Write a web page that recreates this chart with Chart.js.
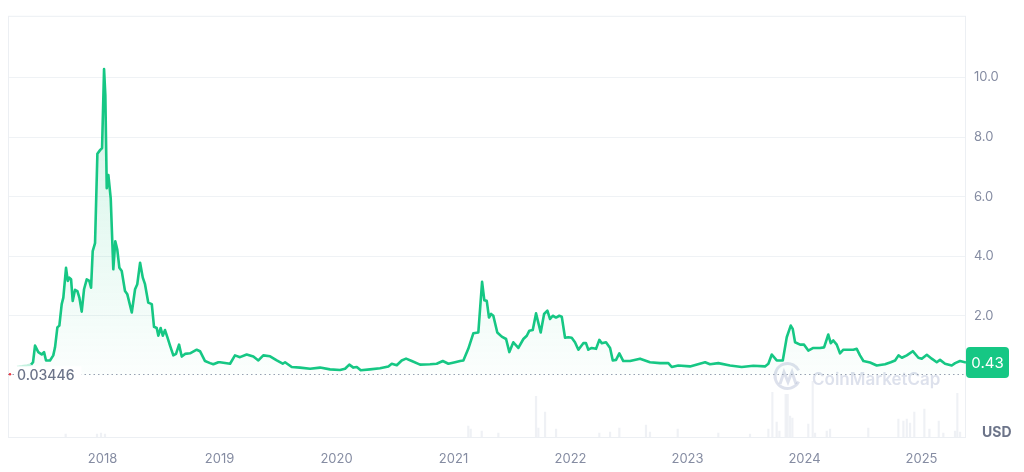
<!DOCTYPE html>
<html>
<head>
<meta charset="utf-8">
<script src="https://cdn.jsdelivr.net/npm/chart.js@4"></script>
<style>
  html, body { margin: 0; padding: 0; background: #fff; }
  #wrap { width: 1024px; height: 472px; }
</style>
</head>
<body>
<div id="wrap"><canvas id="priceChart"></canvas></div>
<script>
// price, dates as decimal years
const priceDates = [
  2017.269, 2017.312, 2017.355, 2017.389, 2017.406, 2017.423, 2017.451, 2017.480, 2017.500, 2017.517,
  2017.551, 2017.579, 2017.594, 2017.614, 2017.631, 2017.651, 2017.665, 2017.688, 2017.703, 2017.716,
  2017.731, 2017.745, 2017.765, 2017.785, 2017.802, 2017.822, 2017.842, 2017.865, 2017.887, 2017.902,
  2017.916, 2017.936, 2017.956, 2017.979, 2017.996, 2018.013, 2018.024, 2018.036, 2018.050, 2018.070,
  2018.092, 2018.109, 2018.126, 2018.144, 2018.164, 2018.192, 2018.212, 2018.250, 2018.278, 2018.297,
  2018.321, 2018.344, 2018.363, 2018.391, 2018.421, 2018.440, 2018.463, 2018.477, 2018.497, 2018.515,
  2018.534, 2018.554, 2018.577, 2018.605, 2018.628, 2018.654, 2018.677, 2018.705, 2018.748, 2018.805,
  2018.833, 2018.876, 2018.919, 2018.947, 2018.990, 2019.004, 2019.090, 2019.132, 2019.175, 2019.232,
  2019.289, 2019.332, 2019.374, 2019.432, 2019.489, 2019.540, 2019.560, 2019.617, 2019.688, 2019.774,
  2019.859, 2019.944, 2020.030, 2020.073, 2020.109, 2020.144, 2020.173, 2020.207, 2020.286, 2020.372,
  2020.443, 2020.472, 2020.515, 2020.557, 2020.594, 2020.643, 2020.714, 2020.799, 2020.856, 2020.908,
  2020.956, 2021.013, 2021.056, 2021.084, 2021.126, 2021.169, 2021.212, 2021.244, 2021.263, 2021.284,
  2021.303, 2021.321, 2021.340, 2021.374, 2021.412, 2021.449, 2021.477, 2021.511, 2021.554, 2021.597,
  2021.626, 2021.648, 2021.677, 2021.705, 2021.745, 2021.774, 2021.802, 2021.825, 2021.848, 2021.876,
  2021.904, 2021.925, 2021.953, 2021.981, 2022.010, 2022.038, 2022.067, 2022.109, 2022.132, 2022.152,
  2022.181, 2022.218, 2022.246, 2022.267, 2022.303, 2022.338, 2022.361, 2022.389, 2022.417, 2022.451,
  2022.509, 2022.594, 2022.679, 2022.765, 2022.836, 2022.865, 2022.921, 2023.021, 2023.150, 2023.192,
  2023.263, 2023.363, 2023.463, 2023.562, 2023.662, 2023.691, 2023.720, 2023.762, 2023.814, 2023.848,
  2023.882, 2023.899, 2023.919, 2023.962, 2023.996, 2024.032, 2024.075, 2024.132, 2024.167, 2024.203,
  2024.224, 2024.246, 2024.275, 2024.303, 2024.332, 2024.374, 2024.417, 2024.446, 2024.474, 2024.503,
  2024.560, 2024.617, 2024.688, 2024.737, 2024.774, 2024.803, 2024.832, 2024.874, 2024.925, 2024.973,
  2025.002, 2025.045, 2025.087, 2025.130, 2025.158, 2025.201, 2025.258, 2025.287, 2025.329, 2025.380
];
const priceValues = [
  0.28, 0.30, 0.33, 0.36, 0.44, 1.00, 0.78, 0.70, 0.78, 0.50,
  0.50, 0.67, 0.94, 1.61, 1.67, 2.39, 2.61, 3.61, 3.17, 3.28,
  3.23, 2.50, 2.87, 2.83, 2.61, 2.14, 2.89, 3.22, 3.17, 2.94,
  4.17, 4.44, 7.44, 7.56, 7.63, 10.28, 9.40, 6.28, 6.72, 5.94,
  3.56, 4.50, 4.22, 3.61, 3.50, 2.83, 2.72, 2.11, 2.89, 3.06,
  3.78, 3.28, 3.06, 2.44, 2.39, 1.63, 1.59, 1.33, 1.59, 1.33,
  1.52, 1.28, 1.00, 0.67, 0.72, 1.03, 0.63, 0.72, 0.74, 0.86,
  0.81, 0.48, 0.41, 0.37, 0.44, 0.44, 0.39, 0.67, 0.61, 0.70,
  0.63, 0.50, 0.67, 0.64, 0.50, 0.39, 0.44, 0.28, 0.26, 0.22,
  0.26, 0.20, 0.18, 0.22, 0.36, 0.26, 0.28, 0.17, 0.20, 0.24,
  0.30, 0.39, 0.34, 0.50, 0.56, 0.48, 0.36, 0.37, 0.39, 0.48,
  0.39, 0.44, 0.48, 0.50, 0.89, 1.41, 1.44, 3.14, 2.52, 2.50,
  1.94, 2.06, 2.00, 1.44, 1.30, 1.22, 0.78, 1.11, 0.92, 1.22,
  1.33, 1.50, 1.52, 2.08, 1.44, 2.06, 2.17, 1.89, 2.00, 1.94,
  2.00, 1.97, 1.26, 1.28, 1.26, 1.11, 0.86, 1.08, 1.08, 0.86,
  0.92, 0.89, 1.19, 1.08, 1.11, 0.92, 0.50, 0.52, 0.74, 0.48,
  0.48, 0.56, 0.44, 0.41, 0.41, 0.28, 0.33, 0.30, 0.44, 0.37,
  0.41, 0.33, 0.28, 0.32, 0.30, 0.39, 0.70, 0.50, 0.50, 1.28,
  1.67, 1.56, 1.11, 1.03, 1.03, 0.83, 0.92, 0.92, 0.94, 1.37,
  1.08, 1.17, 1.03, 0.74, 0.86, 0.86, 0.86, 0.89, 0.67, 0.48,
  0.43, 0.33, 0.37, 0.44, 0.50, 0.67, 0.59, 0.67, 0.81, 0.59,
  0.56, 0.69, 0.56, 0.44, 0.52, 0.39, 0.33, 0.41, 0.48, 0.43
];

// volume (relative units)
const volumeDates = [
  2017.685, 2017.953, 2017.987, 2018.021, 2021.126, 2021.147, 2021.241, 2021.383, 2021.705, 2021.725,
  2021.782, 2021.876, 2022.246, 2022.338, 2022.417, 2022.645, 2022.679, 2022.916, 2023.263, 2023.534,
  2023.691, 2023.725, 2023.762, 2023.785, 2023.839, 2023.856, 2023.876, 2023.896, 2024.032, 2024.070,
  2024.090, 2024.190, 2024.218, 2024.545, 2024.802, 2024.845, 2024.874, 2024.902, 2024.938, 2025.024,
  2025.067, 2025.147, 2025.186, 2025.286, 2025.306, 2025.329
];
const volumeValues = [
  3, 3, 4, 3, 11, 8, 6, 4, 41, 9,
  25, 8, 4, 5, 9, 12, 5, 8, 4, 3,
  8, 45, 15, 6, 43, 43, 21, 19, 13, 56,
  4, 6, 8, 9, 18, 16, 18, 14, 25, 28,
  8, 16, 4, 6, 44, 5
];

const yearTicks = [2018, 2019, 2020, 2021, 2022, 2023, 2024, 2025];
const priceTicks = [2, 4, 6, 8, 10];
const firstPrice = 0.03446;
const lastPrice = 0.43;
const currency = "USD";

const green = "#16c784";
const textGray = "#858ca2";

let pricePoints = priceDates.map((d, i) => ({ x: d, y: priceValues[i] }));
let volumePoints = volumeDates.map((d, i) => ({ x: d, y: volumeValues[i] }));

const overlayPlugin = {
  id: "overlay",
  beforeDatasetsDraw(chart) {
    let ctx = chart.ctx;
    let area = chart.chartArea;
    let y = chart.scales.y.getPixelForValue(firstPrice);

    // frame
    ctx.save();
    ctx.strokeStyle = "#eceff3";
    ctx.lineWidth = 1;
    ctx.strokeRect(area.left + 0.5, area.top + 0.5, area.right - area.left - 1, area.bottom - area.top);
    ctx.restore();

    // watermark
    ctx.save();
    ctx.globalAlpha = 0.4;
    ctx.strokeStyle = "#aab4cf";
    ctx.lineWidth = 3;
    ctx.beginPath();
    ctx.arc(787.5, 376, 12.5, Math.PI * 0.15, Math.PI * 1.85);
    ctx.stroke();
    ctx.beginPath();
    ctx.moveTo(780, 384);
    ctx.lineTo(784, 372);
    ctx.lineTo(788, 382);
    ctx.lineTo(792, 372);
    ctx.lineTo(796, 384);
    ctx.stroke();
    ctx.fillStyle = "#aab4cf";
    ctx.font = "600 17px Inter";
    ctx.textBaseline = "alphabetic";
    ctx.textAlign = "left";
    ctx.fillText("CoinMarketCap", 812, 385);
    ctx.restore();

    // dotted first-price line
    ctx.save();
    ctx.strokeStyle = "#9aa1b3";
    ctx.lineWidth = 1;
    ctx.setLineDash([1.5, 3]);
    ctx.beginPath();
    ctx.moveTo(area.left, Math.round(y) + 0.5);
    ctx.lineTo(area.right, Math.round(y) + 0.5);
    ctx.stroke();
    ctx.restore();
  },
  afterDatasetsDraw(chart) {
    let ctx = chart.ctx;
    let area = chart.chartArea;
    let y0 = chart.scales.y.getPixelForValue(firstPrice);
    let y1 = chart.scales.y.getPixelForValue(lastPrice);

    ctx.save();
    ctx.font = "500 14px Inter";
    let label = firstPrice.toString();
    let w = ctx.measureText(label).width;
    ctx.fillStyle = "#fff";
    ctx.fillRect(area.left + 6, y0 - 8, w + 10, 16);
    ctx.fillStyle = "#6c7489";
    ctx.textBaseline = "middle";
    ctx.fillText(label, area.left + 9, y0 + 1);
    ctx.fillStyle = "#ea3943";
    ctx.beginPath();
    ctx.arc(area.left + 2, y0, 1.2, 0, Math.PI * 2);
    ctx.fill();

    // current price badge
    ctx.fillStyle = green;
    ctx.beginPath();
    ctx.roundRect(area.right, y1 - 15.5, 43, 31, 4);
    ctx.fill();
    ctx.fillStyle = "#fff";
    ctx.font = "15px Inter";
    ctx.textAlign = "center";
    ctx.fillText(lastPrice.toFixed(2), area.right + 21.5, y1 + 1);

    // currency
    ctx.fillStyle = "#6c7489";
    ctx.font = "bold 14px Inter";
    ctx.textAlign = "left";
    ctx.fillText(currency, area.right + 16, area.bottom - 4);
    ctx.restore();
  }
};

let ctx = document.getElementById("priceChart").getContext("2d");

window.priceChart = new Chart(ctx, {
  type: "line",
  data: {
    datasets: [
      {
        type: "line",
        label: "Price",
        data: pricePoints,
        borderColor: green,
        borderWidth: 2.6,
        borderJoinStyle: "round",
        pointRadius: 0,
        tension: 0,
        fill: "origin",
        backgroundColor: function (c) {
          let area = c.chart.chartArea;
          if (!area) return "rgba(22,199,132,0.1)";
          let base = c.chart.scales.y.getPixelForValue(0);
          let g = c.chart.ctx.createLinearGradient(0, area.top + 50, 0, base);
          g.addColorStop(0, "rgba(22,199,132,0.2)");
          g.addColorStop(1, "rgba(22,199,132,0.015)");
          return g;
        },
        segment: {
          borderColor: s => s.p1.parsed.x <= 2017.39 ? "rgba(22,199,132,0.25)" : undefined
        },
        yAxisID: "y",
        order: 1
      },
      {
        type: "bar",
        label: "Volume",
        data: volumePoints,
        backgroundColor: "rgba(210,215,226,0.35)",
        barThickness: 1.5,
        yAxisID: "yv",
        order: 2
      }
    ]
  },
  options: {
    responsive: true,
    maintainAspectRatio: false,
    animation: false,
    layout: { padding: { left: 8, top: 13, right: 0, bottom: 0 } },
    plugins: {
      legend: { display: false },
      tooltip: { enabled: false }
    },
    scales: {
      x: {
        type: "linear",
        offset: false,
        min: 2017.192,
        max: 2025.380,
        grid: { display: false, drawTicks: false, offset: false },
        border: { display: false },
        afterBuildTicks: axis => { axis.ticks = yearTicks.map(v => ({ value: v })); },
        afterFit: axis => { axis.height = 35; },
        ticks: {
          padding: 14,
          color: textGray,
          font: { family: "Inter", size: 13 },
          maxRotation: 0,
          callback: v => String(v)
        }
      },
      y: {
        position: "right",
        min: -2.07,
        max: 12.07,
        grid: { color: "#eff2f5", drawTicks: false },
        border: { display: false },
        afterBuildTicks: axis => { axis.ticks = priceTicks.map(v => ({ value: v })); },
        afterFit: axis => { axis.width = 58; },
        ticks: {
          padding: 8,
          color: textGray,
          font: { family: "Inter", size: 13 },
          callback: v => Number(v).toFixed(1)
        }
      },
      yv: {
        display: false,
        min: 0,
        max: 424
      }
    }
  },
  plugins: [overlayPlugin]
});
</script>
</body>
</html>
